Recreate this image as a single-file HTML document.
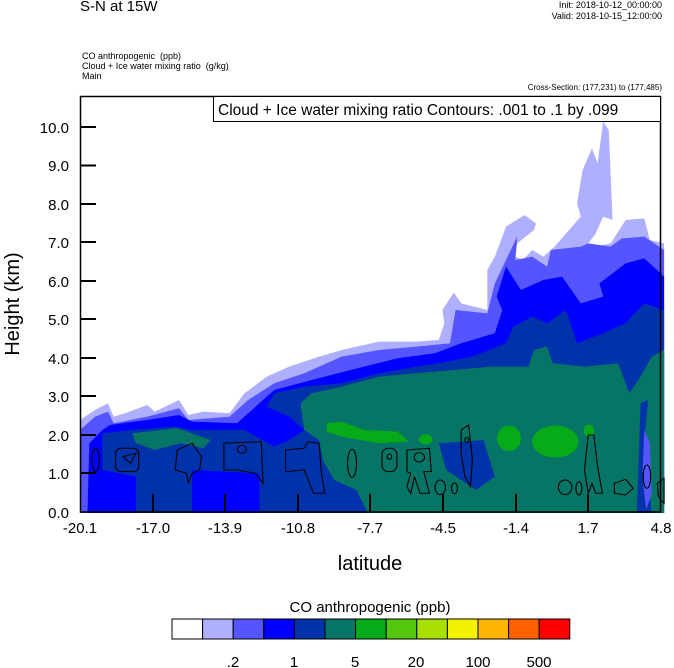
<!DOCTYPE html>
<html><head><meta charset="utf-8"><style>
body{margin:0;background:#fff;width:674px;height:668px;overflow:hidden;font-family:"Liberation Sans",sans-serif}
.t{position:absolute;white-space:nowrap;color:#000}
</style></head><body>
<div class="t" style="left:80px;top:-2px;font-size:15px">S-N at 15W</div>
<div class="t" style="right:12px;top:0px;font-size:9px;text-align:right;line-height:11px">Init: 2018-10-12_00:00:00<br>Valid: 2018-10-15_12:00:00</div>
<div class="t" style="left:82px;top:51px;font-size:9px;line-height:10px">CO anthropogenic &nbsp;(ppb)<br>Cloud + Ice water mixing ratio &nbsp;(g/kg)<br>Main</div>
<div class="t" style="right:12px;top:83px;font-size:8px">Cross-Section: (177,231) to (177,485)</div>
<svg width="674" height="668" style="position:absolute;left:0;top:0">
<g transform="translate(80,110) scale(0.3737,0.3333)">
<polygon fill="#AFAFFF" points="0,930 40,900 75,880 90,920 120,910 180,885 200,905 265,870 290,915 330,905 400,910 440,850 500,800 560,770 640,740 700,720 800,695 900,695 960,690 975,640 970,600 1000,548 1020,580 1090,600 1090,480 1110,440 1140,350 1190,315 1220,340 1215,360 1170,400 1165,440 1185,450 1210,420 1240,440 1270,410 1340,320 1330,280 1345,180 1370,115 1385,160 1400,35 1415,60 1425,330 1400,320 1380,370 1360,400 1380,410 1420,400 1460,330 1510,325 1525,390 1563,400 1563,1209 0,1209"/>
<polygon fill="#5555FF" points="0,960 40,920 75,905 90,940 180,920 265,895 290,930 400,920 450,870 520,820 600,790 700,740 800,720 900,710 990,700 1005,600 1090,610 1110,520 1140,450 1170,380 1165,450 1210,440 1250,470 1260,420 1340,410 1360,400 1420,410 1450,385 1510,380 1563,420 1563,1209 0,1209"/>
<polygon fill="#0000FF" points="20,1209 25,1000 60,960 80,945 180,930 265,915 300,935 420,940 480,880 520,840 620,810 760,770 850,745 950,730 1020,700 1110,670 1130,600 1115,560 1140,470 1180,540 1240,510 1290,500 1340,580 1400,560 1390,520 1460,460 1510,445 1563,500 1563,1209"/>
<polygon fill="#0033AA" points="60,970 140,960 250,950 300,960 440,960 520,1010 560,990 600,960 560,920 500,890 520,850 600,830 700,820 800,790 900,770 960,760 1050,740 1140,700 1160,650 1210,620 1250,640 1300,600 1330,700 1400,670 1460,640 1510,580 1563,600 1563,1209 60,1209"/>
<polygon fill="#0000FF" points="60,1080 150,1100 150,1209 60,1209"/>
<polygon fill="#0000FF" points="300,1080 480,1090 480,1209 300,1209"/>
<polygon fill="#077565" points="140,970 260,955 350,990 330,1015 270,1000 200,1020 150,1000"/>
<polygon fill="#077565" points="600,960 590,880 620,850 700,830 800,800 900,790 1000,780 1100,770 1200,770 1215,720 1250,710 1265,760 1350,770 1440,760 1470,850 1500,800 1530,740 1563,720 1563,1209 1530,1209 1510,1000 1520,870 1500,880 1490,1209 770,1209 740,1140 680,1110 650,1050 640,990"/>
<polygon fill="#0033AA" points="960,1000 1080,990 1110,1100 1060,1140 980,1080"/>
<polygon fill="#5555FF" points="1510,960 1525,1000 1530,1150 1515,1200 1505,1100"/>
<polygon fill="#07AA18" points="660,940 700,935 760,960 850,965 880,995 800,1000 700,980 660,965"/>
<ellipse fill="#07AA18" cx="925" cy="988" rx="18" ry="15"/>
<ellipse fill="#07AA18" cx="1148" cy="985" rx="32" ry="38"/>
<ellipse fill="#07AA18" cx="1272" cy="995" rx="62" ry="48"/>
<ellipse fill="#07AA18" cx="1362" cy="962" rx="14" ry="18"/>
<g fill="none" stroke="#000" stroke-width="3">
<ellipse cx="42" cy="1050" rx="10" ry="35"/>
<rect x="95" y="1015" width="62" height="70" rx="15"/>
<path d="M115,1040 L150,1030 L135,1060 Z"/>
<path d="M260,1020 L300,1000 L325,1040 L320,1080 L300,1090 L290,1120 L285,1090 L255,1080 Z"/>
<path d="M385,1000 L485,995 L490,1120 L470,1090 L420,1080 L385,1080 Z"/>
<ellipse cx="433" cy="1018" rx="12" ry="12"/>
<path d="M550,1020 L600,1015 L610,995 L640,1000 L645,1080 L655,1150 L625,1150 L600,1080 L550,1085 Z"/>
<ellipse cx="728" cy="1060" rx="12" ry="42"/>
<rect x="808" y="1015" width="40" height="70" rx="18"/>
<ellipse cx="828" cy="1040" rx="6" ry="8"/>
<path d="M875,1020 L935,1015 L940,1085 L920,1085 L935,1150 L910,1150 L895,1100 L885,1150 L875,1130 L885,1090 L875,1085 Z"/>
<ellipse cx="908" cy="1042" rx="14" ry="14"/>
<ellipse cx="964" cy="1132" rx="14" ry="22"/>
<ellipse cx="1002" cy="1135" rx="8" ry="16"/>
<path d="M1020,960 L1040,945 L1050,1050 L1045,1130 L1030,1100 L1020,1030 Z"/>
<ellipse cx="1035" cy="990" rx="5" ry="8"/>
<ellipse cx="1298" cy="1132" rx="18" ry="22"/>
<ellipse cx="1335" cy="1135" rx="8" ry="20"/>
<path d="M1360,975 L1375,975 L1385,1070 L1398,1150 L1380,1150 L1370,1120 L1360,1150 L1350,1080 Z"/>
<path d="M1430,1120 L1460,1108 L1480,1135 L1460,1155 L1430,1150 Z"/>
<ellipse cx="1517" cy="1100" rx="10" ry="35"/>
<path d="M1545,1120 L1563,1105 L1563,1180 L1548,1160 Z"/>
</g>
</g>
<rect x="80.5" y="96.5" width="580" height="415.5" fill="none" stroke="#000" stroke-width="1.5"/>
<rect x="213.5" y="96.5" width="447" height="25" fill="#fff" stroke="#000" stroke-width="1"/>
<text x="218" y="115" font-family="Liberation Sans" font-size="15.5">Cloud + Ice water mixing ratio Contours: .001 to .1 by .099</text>
<g stroke="#000" stroke-width="2">
<line x1="80" y1="127" x2="96" y2="127"/><line x1="80" y1="165.5" x2="96" y2="165.5"/><line x1="80" y1="204" x2="96" y2="204"/><line x1="80" y1="242" x2="96" y2="242"/><line x1="80" y1="281" x2="96" y2="281"/><line x1="80" y1="319" x2="96" y2="319"/><line x1="80" y1="358" x2="96" y2="358"/><line x1="80" y1="396" x2="96" y2="396"/><line x1="80" y1="435" x2="96" y2="435"/><line x1="80" y1="473" x2="96" y2="473"/>
<line x1="153" y1="512" x2="153" y2="494"/><line x1="225" y1="512" x2="225" y2="494"/><line x1="298" y1="512" x2="298" y2="494"/><line x1="370" y1="512" x2="370" y2="494"/><line x1="443" y1="512" x2="443" y2="494"/><line x1="516" y1="512" x2="516" y2="494"/><line x1="588" y1="512" x2="588" y2="494"/>
</g>
<g font-family="Liberation Sans" font-size="15" text-anchor="end">
<text x="69" y="133">10.0</text><text x="69" y="171">9.0</text><text x="69" y="210">8.0</text><text x="69" y="248">7.0</text><text x="69" y="287">6.0</text><text x="69" y="325">5.0</text><text x="69" y="364">4.0</text><text x="69" y="402">3.0</text><text x="69" y="441">2.0</text><text x="69" y="479">1.0</text><text x="69" y="518">0.0</text>
</g>
<g font-family="Liberation Sans" font-size="15" text-anchor="middle">
<text x="80" y="533">-20.1</text><text x="153" y="533">-17.0</text><text x="225" y="533">-13.9</text><text x="298" y="533">-10.8</text><text x="370" y="533">-7.7</text><text x="443" y="533">-4.5</text><text x="516" y="533">-1.4</text><text x="588" y="533">1.7</text><text x="661" y="533">4.8</text>
</g>
<text x="370" y="570" font-family="Liberation Sans" font-size="20" text-anchor="middle">latitude</text>
<text transform="translate(19,304) rotate(-90)" font-family="Liberation Sans" font-size="20" text-anchor="middle">Height (km)</text>
<text x="370" y="612" font-family="Liberation Sans" font-size="15" text-anchor="middle">CO anthropogenic  (ppb)</text>
<g stroke="#000" stroke-width="1">
<rect x="172" y="619" width="30.6" height="20" fill="#fff"/>
<rect x="202.6" y="619" width="30.6" height="20" fill="#AFAFFF"/>
<rect x="233.2" y="619" width="30.6" height="20" fill="#5555FF"/>
<rect x="263.8" y="619" width="30.6" height="20" fill="#0000FF"/>
<rect x="294.4" y="619" width="30.6" height="20" fill="#0033AA"/>
<rect x="325" y="619" width="30.6" height="20" fill="#077565"/>
<rect x="355.6" y="619" width="30.6" height="20" fill="#07AA18"/>
<rect x="386.2" y="619" width="30.6" height="20" fill="#55C60E"/>
<rect x="416.8" y="619" width="30.6" height="20" fill="#A8E000"/>
<rect x="447.4" y="619" width="30.6" height="20" fill="#F2F200"/>
<rect x="478" y="619" width="30.6" height="20" fill="#FFB400"/>
<rect x="508.6" y="619" width="30.6" height="20" fill="#FF6000"/>
<rect x="539.2" y="619" width="30.6" height="20" fill="#FF0000"/>
</g>
<g font-family="Liberation Sans" font-size="15" text-anchor="middle">
<text x="233" y="667">.2</text><text x="294" y="667">1</text><text x="355" y="667">5</text><text x="416" y="667">20</text><text x="478" y="667">100</text><text x="539" y="667">500</text>
</g>
</svg>
</body></html>
